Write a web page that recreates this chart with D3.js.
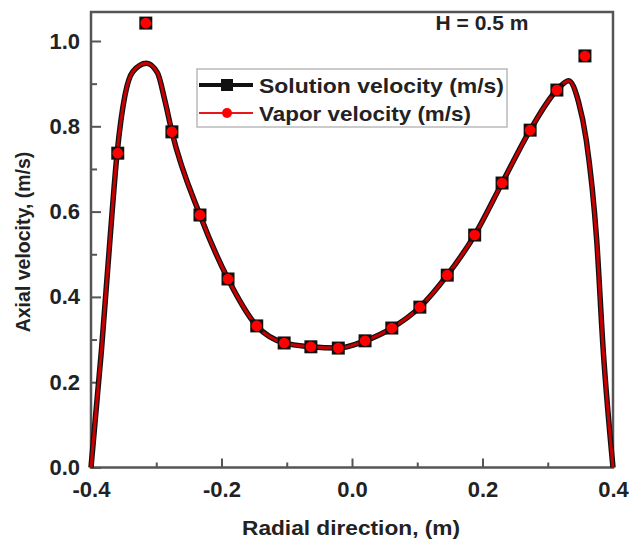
<!DOCTYPE html>
<html>
<head>
<meta charset="utf-8">
<title>Axial velocity</title>
<script src="https://cdn.jsdelivr.net/npm/d3@7"></script>
<style>
  body { margin: 0; background: #fff; }
  text { font-family: "Liberation Sans", Arial, sans-serif; font-weight: bold; fill: #222; }
</style>
</head>
<body>
<div id="chart"></div>
<script>
// smooth profile line (both series coincide)
var curveX = [-0.400, -0.384, -0.371, -0.360, -0.348, -0.336, -0.315, -0.298, -0.287, -0.276,
              -0.233, -0.190, -0.146, -0.104, -0.063, -0.021, 0.020, 0.061, 0.104, 0.146,
              0.188, 0.230, 0.273, 0.314, 0.332, 0.347, 0.359, 0.375, 0.385, 0.400];
var curveY = [0.000, 0.275, 0.533, 0.737, 0.872, 0.928, 0.948, 0.925, 0.862, 0.787,
              0.592, 0.442, 0.332, 0.292, 0.283, 0.280, 0.297, 0.327, 0.376, 0.451,
              0.545, 0.667, 0.791, 0.885, 0.907, 0.858, 0.768, 0.533, 0.275, 0.000];

// symbols
var markX = [-0.359, -0.316, -0.276, -0.233, -0.190, -0.146, -0.104, -0.063, -0.021,
             0.020, 0.061, 0.104, 0.146, 0.188, 0.230, 0.273, 0.314, 0.357];
var solutionY = [0.737, 1.042, 0.787, 0.592, 0.442, 0.332, 0.292, 0.283, 0.280,
                 0.297, 0.327, 0.376, 0.451, 0.545, 0.667, 0.791, 0.885, 0.965];
var vaporY = [0.737, 1.042, 0.787, 0.592, 0.442, 0.332, 0.292, 0.283, 0.280,
              0.297, 0.327, 0.376, 0.451, 0.545, 0.667, 0.791, 0.885, 0.965];

var seriesNames = ["Solution velocity (m/s)", "Vapor velocity (m/s)"];
var xTicks = [-0.4, -0.2, 0.0, 0.2, 0.4];
var yTicks = [0.0, 0.2, 0.4, 0.6, 0.8, 1.0];

var W = 640, H = 542;
var pLeft = 91, pRight = 613, pTop = 12, pBottom = 467.5;

var svg = d3.select("#chart").append("svg")
    .attr("width", W).attr("height", H);

var x = d3.scaleLinear().domain([-0.4, 0.4]).range([pLeft, pRight]);
var y = d3.scaleLinear().domain([0, 1.068]).range([pBottom, pTop]);

var frame = "#555";
var fmt = d => d3.format(".1f")(d).replace("\u2212", "-");

// x ticks (inward)
var xg = svg.append("g").attr("transform", "translate(0," + pBottom + ")");
xg.call(d3.axisBottom(x).tickValues([-0.3, -0.1, 0.1, 0.3]).tickSize(-5).tickFormat(""));
xg.selectAll(".tick line").attr("stroke", frame).attr("stroke-width", 2);
var xg2 = svg.append("g").attr("transform", "translate(0," + pBottom + ")");
xg2.call(d3.axisBottom(x).tickValues(xTicks).tickSize(-9).tickPadding(14).tickFormat(fmt));
xg2.selectAll(".tick line").attr("stroke", frame).attr("stroke-width", 2);
xg2.selectAll(".tick text").attr("font-size", 22).attr("fill", "#222")
    .attr("font-family", "Liberation Sans, Arial, sans-serif");

// y ticks (inward)
var yg = svg.append("g").attr("transform", "translate(" + pLeft + ",0)");
yg.call(d3.axisLeft(y).tickValues([0.1, 0.3, 0.5, 0.7, 0.9]).tickSize(-6).tickFormat(""));
yg.selectAll(".tick line").attr("stroke", frame).attr("stroke-width", 2);
var yg2 = svg.append("g").attr("transform", "translate(" + pLeft + ",0)");
yg2.call(d3.axisLeft(y).tickValues(yTicks).tickSize(-10).tickPadding(11).tickFormat(fmt));
yg2.selectAll(".tick line").attr("stroke", frame).attr("stroke-width", 2);
yg2.selectAll(".tick text").attr("font-size", 22).attr("fill", "#222")
    .attr("font-family", "Liberation Sans, Arial, sans-serif");
svg.selectAll(".domain").remove();

// frame
svg.append("rect")
    .attr("x", pLeft).attr("y", pTop)
    .attr("width", pRight - pLeft).attr("height", pBottom - pTop)
    .attr("fill", "none").attr("stroke", frame).attr("stroke-width", 2.5);

var pts = curveX.map((v, i) => [v, curveY[i]]);
var line = d3.line()
    .x(d => x(d[0])).y(d => y(d[1]))
    .curve(d3.curveMonotoneX);

svg.append("path").attr("d", line(pts))
    .attr("fill", "none").attr("stroke", "#111").attr("stroke-width", 5.5);
svg.append("path").attr("d", line(pts))
    .attr("fill", "none").attr("stroke", "#c80000").attr("stroke-width", 3);

// markers
svg.append("g").selectAll("rect")
    .data(markX.map((v, i) => [v, solutionY[i]]))
    .enter().append("rect")
    .attr("x", d => x(d[0]) - 6.5).attr("y", d => y(d[1]) - 6.5)
    .attr("width", 13).attr("height", 13)
    .attr("fill", "#111");
svg.append("g").selectAll("circle")
    .data(markX.map((v, i) => [v, vaporY[i]]))
    .enter().append("circle")
    .attr("cx", d => x(d[0])).attr("cy", d => y(d[1]))
    .attr("r", 5.3)
    .attr("fill", "#ff0000");

// legend
var lg = svg.append("g");
lg.append("rect")
    .attr("x", 197).attr("y", 69).attr("width", 310).attr("height", 58)
    .attr("fill", "#fff").attr("stroke", "#bbb").attr("stroke-width", 1.5);
lg.append("line").attr("x1", 199).attr("x2", 253).attr("y1", 85).attr("y2", 85)
    .attr("stroke", "#111").attr("stroke-width", 4);
lg.append("rect").attr("x", 221).attr("y", 79).attr("width", 12).attr("height", 12)
    .attr("fill", "#111");
lg.append("line").attr("x1", 199).attr("x2", 253).attr("y1", 113).attr("y2", 113)
    .attr("stroke", "#e8161c").attr("stroke-width", 2);
lg.append("circle").attr("cx", 227).attr("cy", 113).attr("r", 5)
    .attr("fill", "#ff0000");
lg.selectAll("text.leg").data(seriesNames).enter().append("text")
    .attr("class", "leg")
    .attr("x", 259).attr("y", (d, i) => 85 + i * 28)
    .attr("dy", "0.36em")
    .attr("font-size", 21)
    .attr("textLength", (d, i) => i === 0 ? 245 : 212).attr("lengthAdjust", "spacingAndGlyphs")
    .text(d => d);

// annotation
svg.append("text")
    .attr("x", 482).attr("y", 22).attr("dy", "0.36em")
    .attr("text-anchor", "middle").attr("font-size", 21)
    .text("H = 0.5 m");

// axis titles
svg.append("text")
    .attr("x", 351).attr("y", 527).attr("dy", "0.36em")
    .attr("text-anchor", "middle").attr("font-size", 21)
    .attr("textLength", 218).attr("lengthAdjust", "spacingAndGlyphs")
    .text("Radial direction, (m)");
svg.append("text")
    .attr("transform", "translate(23,242) rotate(-90)")
    .attr("dy", "0.36em")
    .attr("text-anchor", "middle").attr("font-size", 19.5)
    .text("Axial velocity, (m/s)");
</script>
</body>
</html>
